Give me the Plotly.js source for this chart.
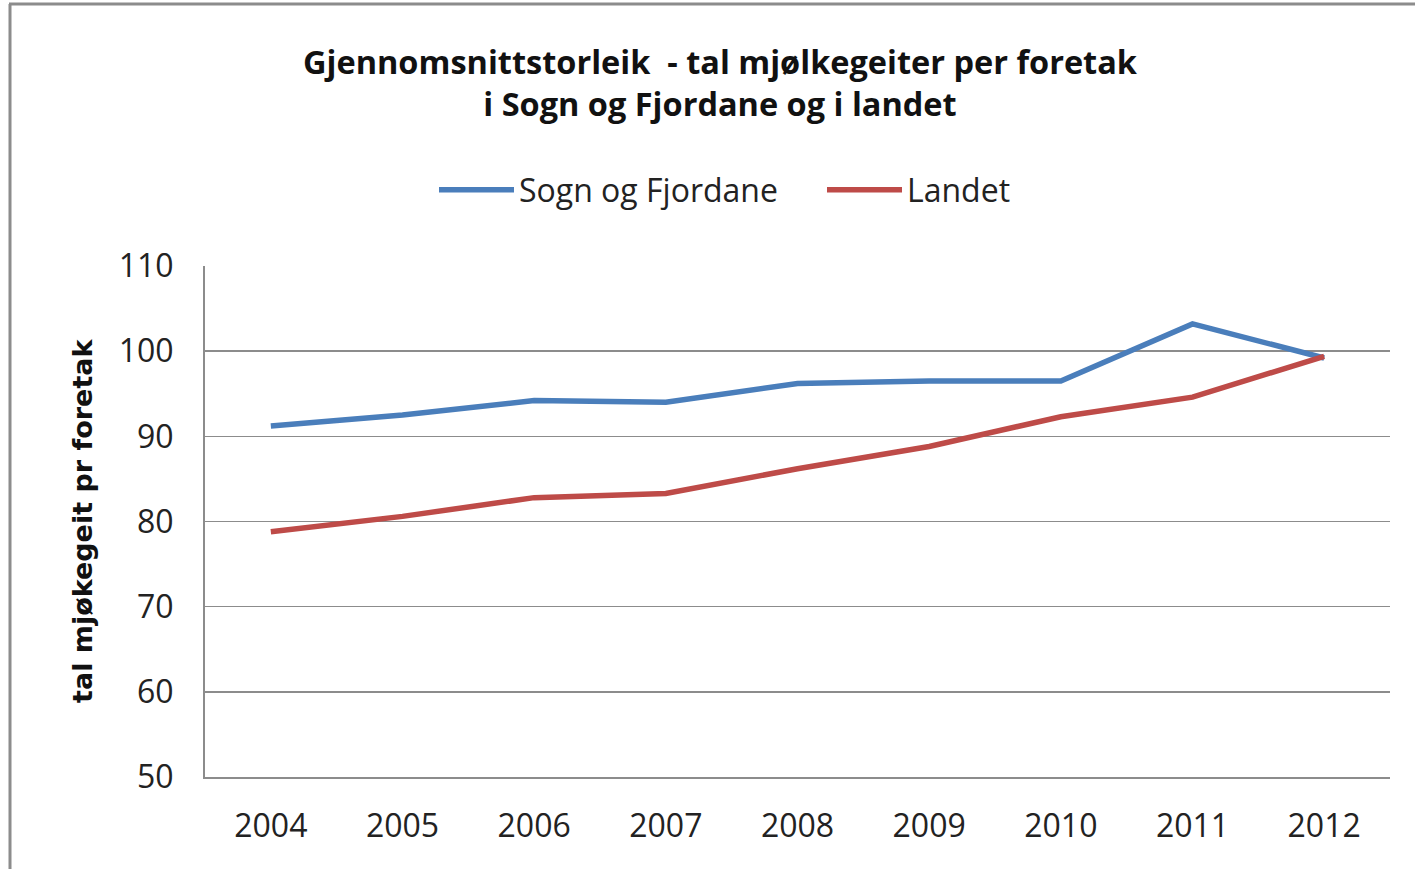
<!DOCTYPE html>
<html>
<head>
<meta charset="utf-8">
<script src="https://cdn.plot.ly/plotly-3.0.1.min.js"></script>
<style>html,body{margin:0;padding:0;background:#fff;}#chart{width:1415px;height:869px;}</style>
</head>
<body>
<div id="chart"></div>
<script>
const years = ["2004","2005","2006","2007","2008","2009","2010","2011","2012"];
const sognOgFjordane = [91.2, 92.5, 94.2, 94.0, 96.2, 96.5, 96.5, 103.2, 99.2];
const landet = [78.8, 80.6, 82.8, 83.3, 86.2, 88.8, 92.3, 94.6, 99.4];
const seriesNames = ["Sogn og Fjordane", "Landet"];
const titleText = "Gjennomsnittstorleik  - tal mjølkegeiter per foretak<br>i Sogn og Fjordane og i landet";
const yTitleText = "tal mjøkegeit pr foretak";

const W = 1415, H = 869;
const L = 205, R = 25, T = 266, B = 92;
const pw = W - L - R, ph = H - T - B;
const px2x = p => (p - L) / pw;
const py2y = p => (H - B - p) / ph;

const traces = [
  {x: years, y: sognOgFjordane, name: seriesNames[0], type: 'scatter', mode: 'lines',
   line: {color: '#4A7EBB', width: 5.5}},
  {x: years, y: landet, name: seriesNames[1], type: 'scatter', mode: 'lines',
   line: {color: '#BE4B48', width: 5.5}}
];

const layout = {
  width: W, height: H,
  margin: {l: L, r: R, t: T, b: B, pad: 0},
  paper_bgcolor: '#fff', plot_bgcolor: '#fff',
  font: {family: '"Open Sans", sans-serif', color: '#222'},
  title: {text: titleText, xref: 'container', x: 720/W, xanchor: 'center',
          yref: 'container', y: 1 - 74/H, yanchor: 'middle',
          font: {family: '"Open Sans", sans-serif', size: 32.5, color: '#111', weight: 'bold'}},
  showlegend: true,
  legend: {orientation: 'h', xref: 'container', x: 434/W, xanchor: 'left',
           yref: 'container', y: 1 - 190/H, yanchor: 'middle',
           font: {size: 32, color: '#222'}, itemwidth: 75, entrywidth: 298, entrywidthmode: 'pixels',
           tracegroupgap: 0},
  xaxis: {type: 'category', range: [-0.5, 8.5], showgrid: false, zeroline: false,
          showline: true, linecolor: '#8c8c8c', linewidth: 2, ticks: '',
          tickfont: {size: 32, color: '#222'}, ticklabelstandoff: 20, fixedrange: true},
  yaxis: {range: [50, 110], dtick: 10, tick0: 50, showgrid: true, gridcolor: '#8c8c8c', gridwidth: 1.5,
          zeroline: false, showline: true, linecolor: '#8c8c8c', linewidth: 2, ticks: '',
          tickfont: {size: 32, color: '#222'}, ticklabelstandoff: 23, fixedrange: true},
  annotations: [
    {text: yTitleText, xref: 'paper', yref: 'paper', x: px2x(82), y: py2y(521),
     xanchor: 'center', yanchor: 'middle', textangle: -90, showarrow: false,
     font: {family: '"DejaVu Sans", sans-serif', size: 27, color: '#111', weight: 'bold'}}
  ],
  shapes: [
    {type: 'line', xref: 'paper', yref: 'paper', x0: px2x(10), x1: px2x(10), y0: py2y(900), y1: py2y(4),
     line: {color: '#8c8c8c', width: 3}},
    {type: 'line', xref: 'paper', yref: 'paper', x0: px2x(9), x1: px2x(1430), y0: py2y(4), y1: py2y(4),
     line: {color: '#8c8c8c', width: 3}}
  ]
};

Plotly.newPlot('chart', traces, layout, {displayModeBar: false, staticPlot: true});
</script>
</body>
</html>
